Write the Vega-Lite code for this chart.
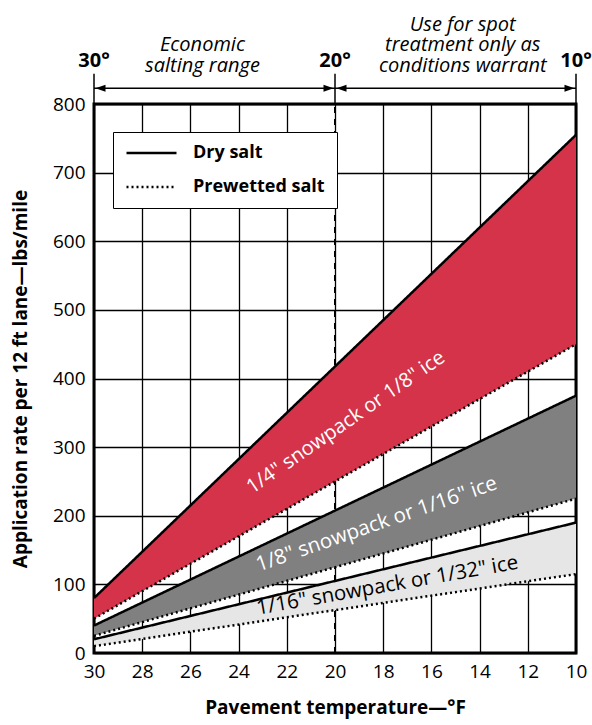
{
  "$schema": "https://vega.github.io/schema/vega-lite/v6.json",
  "width": 482,
  "height": 549,
  "autosize": {"type": "none"},
  "padding": {"left": 94, "top": 104, "right": 16, "bottom": 72},
  "background": "white",
  "config": {
    "font": "Open Sans",
    "view": {"stroke": "black", "strokeWidth": 3},
    "axis": {
      "grid": true, "gridColor": "black", "gridOpacity": 1, "gridWidth": 1.3,
      "ticks": false, "domain": false,
      "labelFont": "Open Sans", "labelFontSize": 19, "labelColor": "black",
      "titleFont": "Open Sans", "titleFontSize": 19, "titleFontWeight": "bold", "titleColor": "black"
    },
    "axisX": {"tickCount": 10, "labelPadding": 9, "titlePadding": 17, "labelFlush": false, "labelOverlap": false},
    "axisY": {"tickCount": 8, "labelPadding": 9, "titlePadding": 22}
  },
  "datasets": {
    "bands": [
      {"band": "1/4", "temp": 30, "Dry salt": 80, "Prewetted salt": 50},
      {"band": "1/4", "temp": 10, "Dry salt": 755, "Prewetted salt": 450},
      {"band": "1/8", "temp": 30, "Dry salt": 40, "Prewetted salt": 25},
      {"band": "1/8", "temp": 10, "Dry salt": 375, "Prewetted salt": 225},
      {"band": "1/16", "temp": 30, "Dry salt": 20, "Prewetted salt": 10},
      {"band": "1/16", "temp": 10, "Dry salt": 190, "Prewetted salt": 115}
    ]
  },
  "encoding": {
    "x": {"field": "temp", "type": "quantitative", "title": "Pavement temperature—°F",
          "scale": {"domain": [10, 30], "reverse": true, "nice": false, "zero": false}},
    "y": {"field": "rate", "type": "quantitative", "title": "Application rate per 12 ft lane—lbs/mile",
          "scale": {"domain": [0, 800], "nice": false}}
  },
  "layer": [
    {
      "data": {"values": [{"temp": 20, "rate": 0, "rate2": 800}]},
      "mark": {"type": "rule", "color": "black", "strokeWidth": 2, "strokeDash": [6, 6]},
      "encoding": {"y2": {"field": "rate2"}}
    },
    {
      "data": {"name": "bands"},
      "mark": {"type": "area", "opacity": 1},
      "encoding": {
        "y": {"field": "Dry salt", "type": "quantitative", "title": "Application rate per 12 ft lane—lbs/mile"},
        "y2": {"field": "Prewetted salt"},
        "color": {"field": "band", "type": "nominal", "legend": null,
                  "scale": {"domain": ["1/4", "1/8", "1/16"], "range": ["#D5334A", "#808080", "#E6E6E6"]}}
      }
    },
    {
      "data": {"name": "bands"},
      "transform": [{"fold": ["Dry salt", "Prewetted salt"], "as": ["type", "rate"]}],
      "mark": {"type": "line", "color": "black", "strokeWidth": 2.5},
      "encoding": {
        "detail": {"field": "band"},
        "strokeDash": {
          "field": "type", "type": "nominal",
          "scale": {"domain": ["Dry salt", "Prewetted salt"], "range": [[1, 0], [2, 3]]},
          "legend": {
            "orient": "none", "legendX": 19, "legendY": 28, "title": null,
            "symbolType": "stroke", "symbolSize": 2500, "symbolStrokeWidth": 2.5,
            "symbolStrokeColor": "black", "clipHeight": 18,
            "labelFont": "Open Sans", "labelFontSize": 18, "labelFontWeight": "bold", "labelColor": "black",
            "labelOffset": 15, "fillColor": "white", "strokeColor": "black",
            "padding": 12, "rowPadding": 16
          }
        }
      }
    },
    {
      "data": {"values": [{"temp": 19.55, "rate": 336, "label": "1/4\" snowpack or 1/8\" ice"}]},
      "mark": {"type": "text", "angle": 325.4, "fontSize": 20, "color": "white", "align": "center", "baseline": "middle"},
      "encoding": {"text": {"field": "label"}}
    },
    {
      "data": {"values": [{"temp": 18.27, "rate": 187.5, "label": "1/8\" snowpack or 1/16\" ice"}]},
      "mark": {"type": "text", "angle": 340.9, "fontSize": 20.5, "color": "white", "align": "center", "baseline": "middle"},
      "encoding": {"text": {"field": "label"}}
    },
    {
      "data": {"values": [{"temp": 17.83, "rate": 98, "label": "1/16\" snowpack or 1/32\" ice"}]},
      "mark": {"type": "text", "angle": 350, "fontSize": 20.5, "color": "black", "align": "center", "baseline": "middle"},
      "encoding": {"text": {"field": "label"}}
    },
    {
      "data": {"values": [{"temp": 30, "rate": 800, "rate2": 844}, {"temp": 20, "rate": 800, "rate2": 844}, {"temp": 10, "rate": 800, "rate2": 844}]},
      "mark": {"type": "rule", "color": "black", "strokeWidth": 1.5},
      "encoding": {"y2": {"field": "rate2"}}
    },
    {
      "data": {"values": [{"temp": 30, "to": 20, "rate": 823}, {"temp": 20, "to": 10, "rate": 823}]},
      "mark": {"type": "rule", "color": "black", "strokeWidth": 1.5},
      "encoding": {"x2": {"field": "to"}}
    },
    {
      "data": {"values": [{"temp": 30, "head": "left", "rate": 823}, {"temp": 20, "head": "right", "rate": 823}, {"temp": 20, "head": "left", "rate": 823}, {"temp": 10, "head": "right", "rate": 823}]},
      "mark": {"type": "point", "filled": true, "color": "black", "size": 100, "opacity": 1},
      "encoding": {
        "shape": {"field": "head", "type": "nominal", "legend": null,
                  "scale": {"domain": ["left", "right"], "range": ["M0.3,0L2.3,-0.7L2.3,0.7Z", "M-0.3,0L-2.3,-0.7L-2.3,0.7Z"]}}
      }
    },
    {
      "data": {"values": [{"temp": 30, "rate": 854, "label": "30°"}, {"temp": 20, "rate": 854, "label": "20°"}, {"temp": 10, "rate": 854, "label": "10°"}]},
      "mark": {"type": "text", "fontSize": 20, "fontWeight": "bold", "color": "black", "align": "center", "baseline": "alphabetic"},
      "encoding": {"text": {"field": "label"}}
    },
    {
      "data": {"values": [
        {"temp": 25.5, "rate": 877, "label": "Economic"},
        {"temp": 25.5, "rate": 846, "label": "salting range"},
        {"temp": 14.7, "rate": 907, "label": "Use for spot"},
        {"temp": 14.7, "rate": 877, "label": "treatment only as"},
        {"temp": 14.7, "rate": 846, "label": "conditions warrant"}
      ]},
      "mark": {"type": "text", "fontSize": 20, "fontStyle": "italic", "color": "black", "align": "center", "baseline": "alphabetic"},
      "encoding": {"text": {"field": "label"}}
    }
  ]
}
